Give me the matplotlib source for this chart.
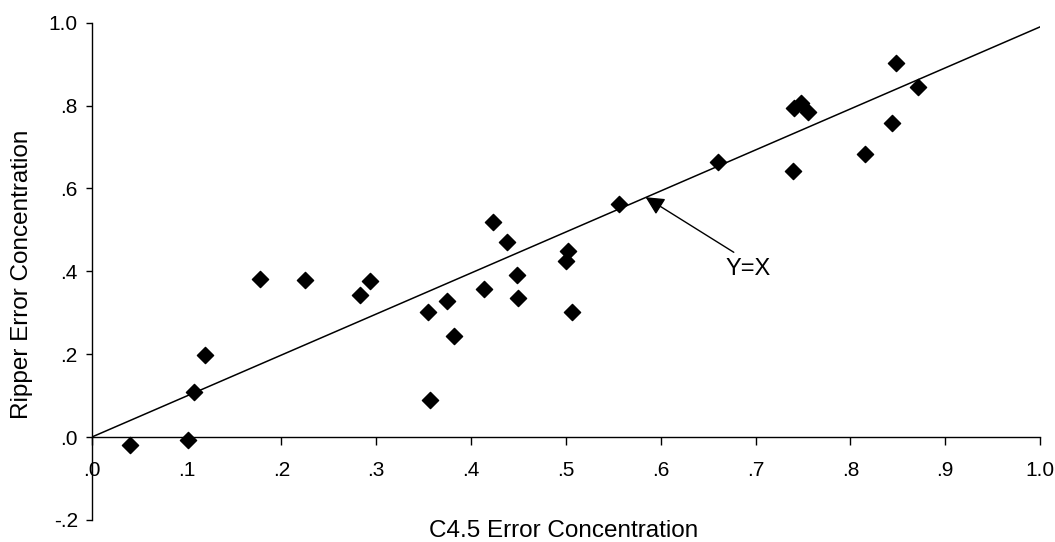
import matplotlib.pyplot as plt
from matplotlib.ticker import FuncFormatter

# C4.5 vs Ripper error concentration
c45 = [0.040, 0.102, 0.108, 0.120, 0.177, 0.225, 0.283, 0.293, 0.355, 0.357,
       0.375, 0.382, 0.414, 0.423, 0.438, 0.448, 0.450, 0.500, 0.502, 0.506,
       0.556, 0.660, 0.739, 0.740, 0.748, 0.755, 0.815, 0.844, 0.848, 0.871]
ripper = [-0.020, -0.006, 0.108, 0.198, 0.382, 0.379, 0.344, 0.376, 0.301, 0.089,
          0.328, 0.243, 0.358, 0.519, 0.472, 0.392, 0.336, 0.425, 0.448, 0.303,
          0.563, 0.664, 0.642, 0.795, 0.807, 0.785, 0.682, 0.759, 0.902, 0.845]

# reference line as drawn
line_x = [0.0, 1.0]
line_y = [0.0, 0.99]

xticks = [0.0, 0.1, 0.2, 0.3, 0.4, 0.5, 0.6, 0.7, 0.8, 0.9, 1.0]
yticks = [-0.2, 0.0, 0.2, 0.4, 0.6, 0.8, 1.0]

plt.rcParams['font.family'] = ['Liberation Sans', 'DejaVu Sans']


def short_label(v, pos=None):
    s = '%.1f' % v
    if s == '-0.0':
        s = '0.0'
    return s.replace('0.', '.', 1) if abs(v) < 1 else s


fig = plt.figure(figsize=(10.55, 5.42), dpi=100)
ax = fig.add_axes([0.0869, 0.0406, 0.8990, 0.9175])

ax.plot(line_x, line_y, color='black', lw=1.1)
ax.scatter(c45, ripper, marker='D', s=68, color='black', zorder=3)

# Y=X label with its arrow
ax.annotate('', xy=(0.584, 0.579), xytext=(0.677, 0.446),
            arrowprops=dict(arrowstyle='-|>', color='black', lw=1.0,
                            mutation_scale=28, shrinkA=0, shrinkB=0))
ax.text(0.692, 0.405, 'Y=X', ha='center', va='center', fontsize=17)

ax.set_xlim(0, 1.0)
ax.set_ylim(-0.2, 1.0)
ax.set_xticks(xticks)
ax.set_yticks(yticks)
ax.xaxis.set_major_formatter(FuncFormatter(short_label))
ax.yaxis.set_major_formatter(FuncFormatter(short_label))

ax.spines['top'].set_visible(False)
ax.spines['right'].set_visible(False)
ax.spines['bottom'].set_position(('data', 0))
ax.spines['left'].set_linewidth(1.0)
ax.spines['bottom'].set_linewidth(1.0)

ax.tick_params(axis='x', direction='out', length=6, width=1.0, pad=11, labelsize=15)
ax.tick_params(axis='y', direction='out', length=4, width=1.0, pad=6, labelsize=15)

fig.text(564 / 1055, 1 - 531 / 542, 'C4.5 Error Concentration',
         ha='center', va='center', fontsize=17.5)
fig.text(22 / 1055, 1 - 274 / 542, 'Ripper Error Concentration',
         ha='center', va='center', rotation=90, fontsize=17.5)

fig.savefig('out.png')
